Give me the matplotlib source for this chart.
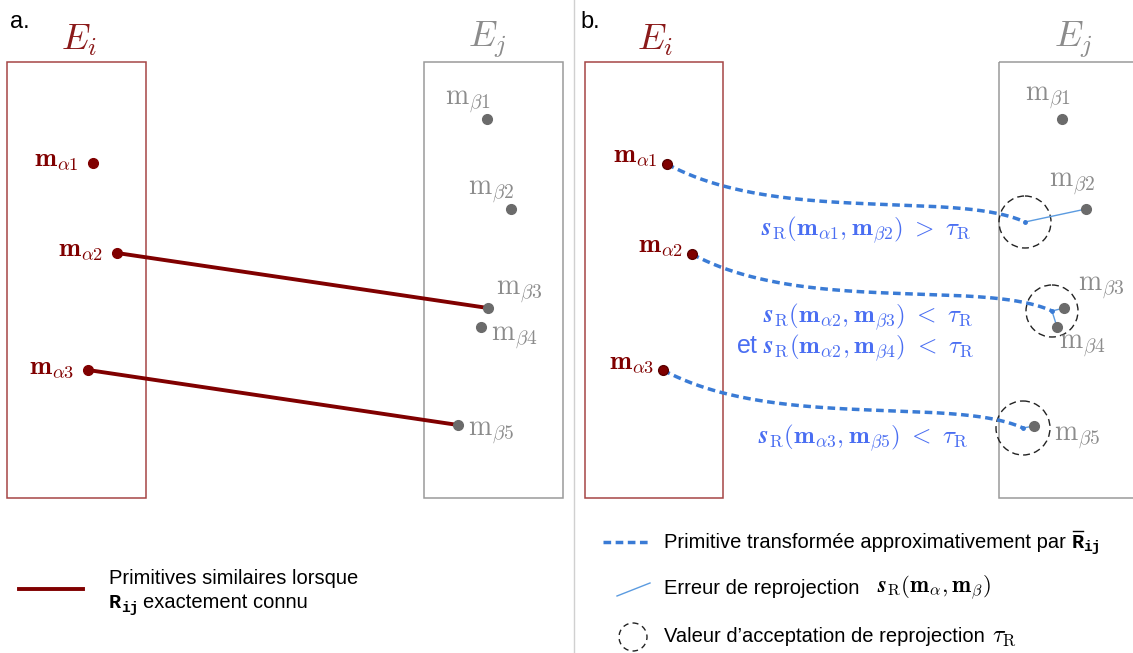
import numpy as np
import matplotlib
matplotlib.use('Agg')
import matplotlib.pyplot as plt
from matplotlib.patches import Rectangle, Circle

plt.rcParams['font.family'] = ['Liberation Sans', 'DejaVu Sans']
plt.rcParams['mathtext.fontset'] = 'cm'

# Feature positions (pixel coords, y pointing down)
alpha_a = [(93, 163), (117, 253), (88, 370)]
beta_a = [(487, 119), (511, 209), (488, 308), (481, 327), (458, 425)]
alpha_b = [(667, 164), (692, 254), (663, 370)]
beta_b = [(1062, 119), (1086, 209), (1064, 308), (1057, 327), (1034, 426)]
proj_b = [(1025, 222), (1052, 311), (1023, 428)]
tau_radius = [26, 26, 27]

# correspondences
matches_a = [(1, 2), (2, 4)]            # alpha -> beta (panel a)
errors_b = [(0, 1), (1, 2), (1, 3), (2, 4)]  # projection -> beta (panel b)

alpha_labels = [r'$\mathbf{m}_{\alpha1}$', r'$\mathbf{m}_{\alpha2}$', r'$\mathbf{m}_{\alpha3}$']
beta_labels = [r'$\mathrm{m}_{\beta1}$', r'$\mathrm{m}_{\beta2}$', r'$\mathrm{m}_{\beta3}$',
               r'$\mathrm{m}_{\beta4}$', r'$\mathrm{m}_{\beta5}$']
beta_a_label_pos = [(445, 102), (468, 192), (496, 292), (491, 338), (468, 433)]
beta_b_label_pos = [(1025, 98), (1049, 184), (1078, 288), (1059, 346), (1054, 438)]

score_texts = [
    r'$\mathbfit{s}_{\mathrm{R}}(\mathbf{m}_{\alpha1}, \mathbf{m}_{\beta2})\ >\ \tau_{\mathrm{R}}$',
    r'$\mathbfit{s}_{\mathrm{R}}(\mathbf{m}_{\alpha2}, \mathbf{m}_{\beta3})\ <\ \tau_{\mathrm{R}}$',
    r'et $\mathbfit{s}_{\mathrm{R}}(\mathbf{m}_{\alpha2}, \mathbf{m}_{\beta4})\ <\ \tau_{\mathrm{R}}$',
    r'$\mathbfit{s}_{\mathrm{R}}(\mathbf{m}_{\alpha3}, \mathbf{m}_{\beta5})\ <\ \tau_{\mathrm{R}}$',
]

dark_red = '#800000'
box_red = '#a54545'
gray_pt = '#6b6b6b'
gray_txt = '#8c8c8c'
blue_curve = '#3a7bd5'
blue_err = '#5b9be0'
blue_txt = '#4a6ef2'
leg_fs = 14.5

fig = plt.figure(figsize=(11.33, 6.53), dpi=100)
ax = fig.add_axes([0, 0, 1, 1])
ax.set_xlim(0, 1133)
ax.set_ylim(653, 0)
ax.axis('off')
renderer = fig.canvas.get_renderer()


def right_edge(txt):
    bb = txt.get_window_extent(renderer)
    return ax.transData.inverted().transform((bb.x1, bb.y0))[0]


def rij(x, y, bar=False):
    # bold typewriter R with ij subscript
    r = ax.text(x, y, 'R', fontsize=leg_fs, family='Liberation Mono', weight='bold', va='center')
    xr = right_edge(r)
    ij = ax.text(xr, y + 5, 'ij', fontsize=leg_fs * 0.72, family='Liberation Mono',
                 weight='bold', va='center')
    if bar:
        ax.plot([x + 1, xr - 1], [y - 11, y - 11], color='black', lw=1.0)
    return right_edge(ij)


# divider
ax.plot([574, 574], [0, 653], color='#d0d0d0', lw=1)

# panel letters
ax.text(10, 22, 'a.', fontsize=17, va='center', ha='left')
ax.text(580, 22, 'b.', fontsize=17, va='center', ha='left')

# boxes + set names
for x0, x1, col, name, nx in [(7, 146, box_red, r'$E_i$', 79),
                              (424, 563, '#9a9a9a', r'$E_j$', 487),
                              (585, 723, box_red, r'$E_i$', 655),
                              (999, 1150, '#9a9a9a', r'$E_j$', 1073)]:
    ax.add_patch(Rectangle((x0, 62), x1 - x0, 436, fill=False, ec=col, lw=1.1))
    tcol = '#8b1a1a' if col == box_red else gray_txt
    ax.text(nx, 40, name, fontsize=26, color=tcol, ha='center', va='center')

# ---- panel a ----
for a, b in matches_a:
    ax.plot([alpha_a[a][0], beta_a[b][0]], [alpha_a[a][1], beta_a[b][1]],
            color=dark_red, lw=2.8, solid_capstyle='round', zorder=2)
for (x, y), lab in zip(alpha_a, alpha_labels):
    ax.plot(x, y, 'o', color=dark_red, ms=7, zorder=3)
    ax.text(x - 14, y - 2, lab, fontsize=19, color=dark_red, ha='right', va='center')
for (x, y), (lx, ly), lab in zip(beta_a, beta_a_label_pos, beta_labels):
    ax.plot(x, y, 'o', color=gray_pt, ms=7, zorder=3)
    ax.text(lx, ly, lab, fontsize=20, color=gray_txt, ha='left', va='center')

# legend a
ax.plot([19, 83], [589, 589], color=dark_red, lw=2.8)
ax.text(109, 578, 'Primitives similaires lorsque', fontsize=leg_fs, va='center')
xe = rij(109, 603)
ax.text(xe + 4, 603, 'exactement connu', fontsize=leg_fs, va='center')

# ---- panel b ----
t = np.linspace(0, 1, 200)[:, None]
for (x0, y0), (x1, y1) in zip(alpha_b, proj_b):
    p0 = np.array([x0, y0])
    p1 = p0 + [110, 60]
    p3 = np.array([x1, y1])
    p2 = p3 + [-70, -32]
    bez = (1 - t) ** 3 * p0 + 3 * (1 - t) ** 2 * t * p1 + 3 * (1 - t) * t ** 2 * p2 + t ** 3 * p3
    ax.plot(bez[:, 0], bez[:, 1], color=blue_curve, lw=2.5, ls=(0, (2.2, 1.3)), zorder=2)

for (cx, cy), r in zip(proj_b, tau_radius):
    ax.add_patch(Circle((cx, cy), r, fill=False, ec='#222222', lw=1.0, ls=(0, (5, 3))))
    ax.plot(cx, cy, 'o', color=blue_curve, ms=2.5, zorder=3)

for p, b in errors_b:
    ax.plot([proj_b[p][0], beta_b[b][0]], [proj_b[p][1], beta_b[b][1]],
            color=blue_err, lw=1.0, zorder=2)

for (x, y), lab in zip(alpha_b, alpha_labels):
    ax.plot(x, y, 'o', color=dark_red, ms=7, mec='#5a0000', zorder=4)
    ax.text(x - 9, y - 7, lab, fontsize=19, color=dark_red, ha='right', va='center')
for (x, y), (lx, ly), lab in zip(beta_b, beta_b_label_pos, beta_labels):
    ax.plot(x, y, 'o', color=gray_pt, ms=7, zorder=3)
    ax.text(lx, ly, lab, fontsize=20, color=gray_txt, ha='left', va='center')

ax.text(866, 230, score_texts[0], fontsize=18, color=blue_txt, ha='center', va='center')
ax.text(974, 317, score_texts[1], fontsize=18, color=blue_txt, ha='right', va='center')
ax.text(974, 348, score_texts[2], fontsize=18, color=blue_txt, ha='right', va='center')
ax.text(863, 438, score_texts[3], fontsize=18, color=blue_txt, ha='center', va='center')

# legend b
ax.plot([603, 648], [542, 542], color=blue_curve, lw=2.5, ls=(0, (2.2, 1.3)))
t1 = ax.text(664, 542, 'Primitive transformée approximativement par ', fontsize=leg_fs, va='center')
rij(right_edge(t1), 542, bar=True)

ax.plot([617, 650], [596, 583], color=blue_err, lw=1.0)
t2 = ax.text(664, 588, 'Erreur de reprojection', fontsize=leg_fs, va='center')
ax.text(right_edge(t2) + 18, 588,
        r'$\mathbfit{s}_{\mathrm{R}}(\mathbf{m}_{\alpha}, \mathbf{m}_{\beta})$',
        fontsize=16.5, va='center')

ax.add_patch(Circle((633, 637), 14, fill=False, ec='#222222', lw=1.0, ls=(0, (4, 3))))
t3 = ax.text(664, 636, 'Valeur d’acceptation de reprojection', fontsize=leg_fs, va='center')
ax.text(right_edge(t3) + 7, 637, r'$\tau_{\mathrm{R}}$', fontsize=17, va='center')

fig.savefig('out.png', dpi=100)
